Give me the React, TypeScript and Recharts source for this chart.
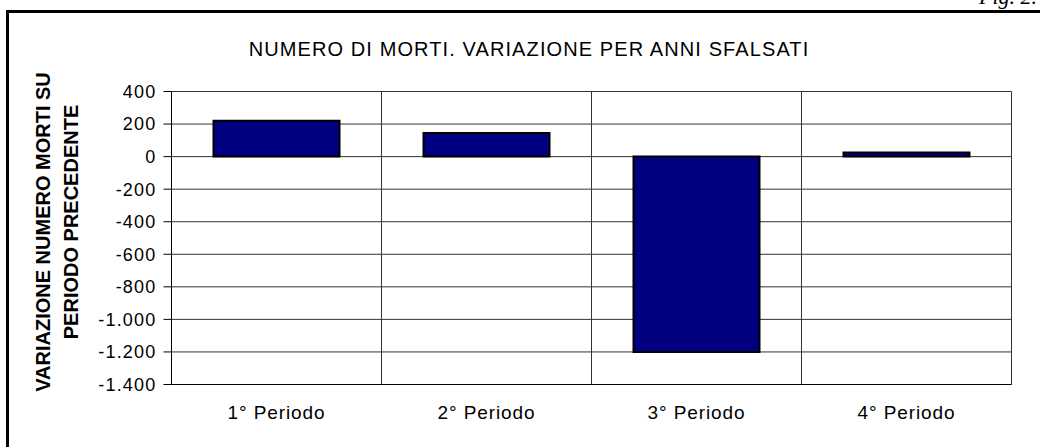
import { Bar, BarChart, CartesianGrid, XAxis, YAxis } from "recharts";

const periods = ["1° Periodo", "2° Periodo", "3° Periodo", "4° Periodo"];
const variations = [220, 145, -1200, 25];
const yTicks = [400, 200, 0, -200, -400, -600, -800, -1000, -1200, -1400];

const chartTitle = "NUMERO DI MORTI. VARIAZIONE PER ANNI SFALSATI";
const yTitleLines = ["VARIAZIONE NUMERO MORTI SU", "PERIODO PRECEDENTE"];
const figLabel = "Fig. 2.";

const FONT = "Arial, 'Liberation Sans', sans-serif";

// italian style thousands separator: -1.200
function formatTick(value: number) {
  const abs = Math.abs(value);
  const body = abs >= 1000 ? `${Math.floor(abs / 1000)}.${String(abs % 1000).padStart(3, "0")}` : String(abs);
  return value < 0 ? `-${body}` : body;
}

// vertical lines sit on category boundaries, not centres
function boundaryLines({ offset }: { offset: { left: number; width: number } }) {
  const step = offset.width / periods.length;
  return periods.map((_, i) => offset.left + i * step).concat(offset.left + offset.width);
}

export default function App() {
  const data = periods.map((period, i) => ({ period, value: variations[i] }));

  return (
    <div
      style={{
        position: "absolute",
        left: 0,
        top: 0,
        width: 1040,
        height: 447,
        background: "#fff",
        overflow: "hidden",
        fontFamily: FONT
      }}
    >
      <div
        style={{
          position: "absolute",
          left: 6,
          top: 10,
          width: 1200,
          height: 600,
          borderLeft: "3.5px solid #000",
          borderTop: "3.5px solid #000"
        }}
      />
      <BarChart
        width={1040}
        height={447}
        data={data}
        margin={{ top: 91.5, right: 28.5, bottom: 22.5, left: 71.5 }}
        barCategoryGap="20%"
        style={{ position: "absolute", left: 0, top: 0 }}
      >
        <CartesianGrid
          stroke="#333"
          strokeWidth={1}
          verticalCoordinatesGenerator={boundaryLines}
        />
        <XAxis
          dataKey="period"
          height={40}
          axisLine={{ stroke: "#000" }}
          tickLine={false}
          tickMargin={15}
          tick={{ fontSize: 19, fill: "#000", fontFamily: FONT, letterSpacing: 0.9 }}
          interval={0}
        />
        <YAxis
          width={100}
          domain={[-1400, 400]}
          ticks={yTicks}
          interval={0}
          tickFormatter={formatTick}
          axisLine={{ stroke: "#000" }}
          tickLine={{ stroke: "#000" }}
          tickSize={8}
          tickMargin={7}
          tick={{ fontSize: 18, fill: "#000", fontFamily: FONT, letterSpacing: 1.2 }}
        />
        <Bar dataKey="value" fill="#000080" stroke="#000" strokeWidth={2} isAnimationActive={false} />
      </BarChart>
      <svg
        width={1040}
        height={447}
        style={{ position: "absolute", left: 0, top: 0, pointerEvents: "none" }}
      >
        <text
          x={1037}
          y={4}
          textAnchor="end"
          fontFamily="'Liberation Serif', 'Times New Roman', serif"
          fontStyle="italic"
          fontSize={22}
        >
          {figLabel}
        </text>
        <text x={529} y={56} textAnchor="middle" fontSize={20} letterSpacing={1.1} fontFamily={FONT}>
          {chartTitle}
        </text>
        <text
          transform="translate(49.5,232) rotate(-90)"
          textAnchor="middle"
          fontSize={20}
          fontWeight="bold"
          fontFamily={FONT}
        >
          {yTitleLines[0]}
        </text>
        <text
          transform="translate(78,222) rotate(-90)"
          textAnchor="middle"
          fontSize={20}
          fontWeight="bold"
          fontFamily={FONT}
        >
          {yTitleLines[1]}
        </text>
      </svg>
    </div>
  );
}
